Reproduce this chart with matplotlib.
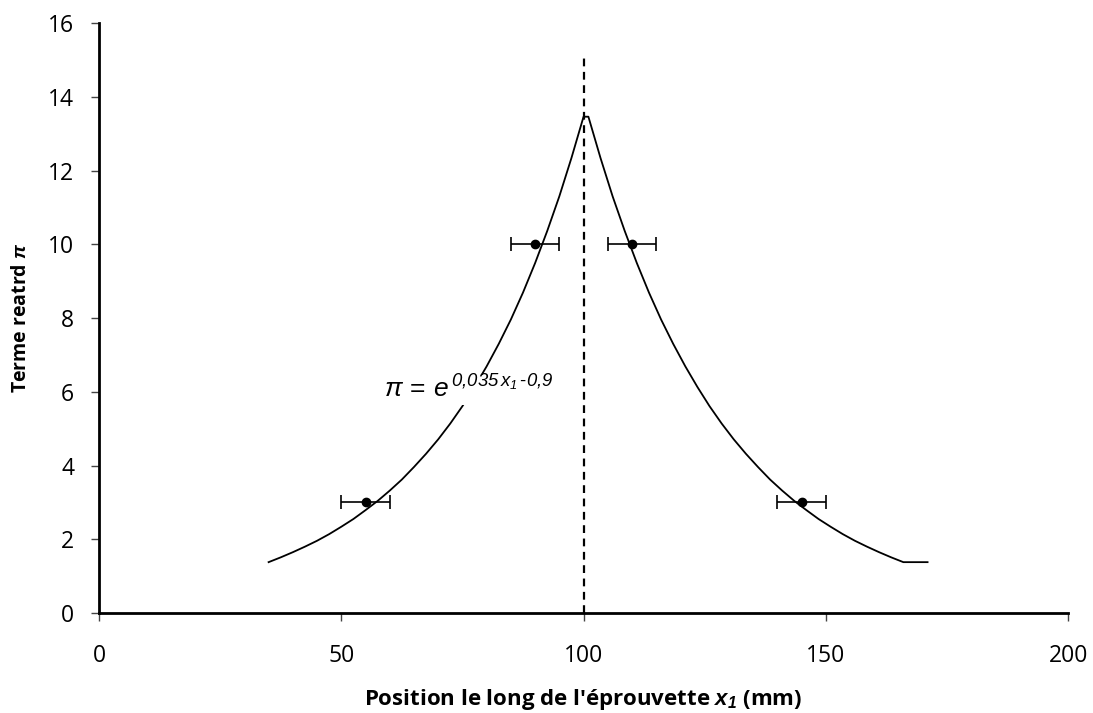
import matplotlib.pyplot as plt

plt.rcParams['font.family'] = ['Open Sans', 'DejaVu Sans']
plt.rcParams['mathtext.fontset'] = 'custom'
plt.rcParams['mathtext.rm'] = 'Liberation Sans'
plt.rcParams['mathtext.it'] = 'Liberation Sans:italic'
plt.rcParams['mathtext.sf'] = 'Liberation Sans:italic'
plt.rcParams['mathtext.bf'] = 'Liberation Sans:bold'
plt.rcParams['mathtext.bfit'] = 'Liberation Sans:italic:bold'

# curve (Excel trend, mirrored about ~100.5 mm)
curve_x = [35, 37.5, 40, 42.5, 45, 47.5, 50, 52.5, 55, 57.5, 60, 62.5, 65, 67.5,
           70, 72.5, 75, 77.5, 80, 82.5, 85, 87.5, 90, 92.5, 95, 97.5, 100,
           101, 103.5, 106, 108.5, 111, 113.5, 116, 118.5, 121, 123.5, 126, 128.5,
           131, 133.5, 136, 138.5, 141, 143.5, 146, 148.5, 151, 153.5, 156, 158.5,
           161, 163.5, 166, 171]
curve_y = [1.38, 1.51, 1.65, 1.80, 1.96, 2.14, 2.34, 2.55, 2.79, 3.04, 3.32, 3.62, 3.96, 4.32,
           4.71, 5.14, 5.61, 6.13, 6.69, 7.30, 7.96, 8.69, 9.49, 10.36, 11.30, 12.34, 13.46,
           13.46, 12.34, 11.30, 10.36, 9.49, 8.69, 7.96, 7.30, 6.69, 6.13, 5.61, 5.14,
           4.71, 4.32, 3.96, 3.62, 3.32, 3.04, 2.79, 2.55, 2.34, 2.14, 1.96, 1.80,
           1.65, 1.51, 1.38, 1.38]

# measured points with horizontal error
pts_x = [55, 90, 110, 145]
pts_y = [3, 10, 10, 3]
pts_xerr = [5, 5, 5, 5]

x_ticks = [0, 50, 100, 150, 200]
y_ticks = [0, 2, 4, 6, 8, 10, 12, 14, 16]

fig = plt.figure(figsize=(10.93, 7.13), dpi=100)
ax = fig.add_axes([0.0906, 0.1402, 0.8866, 0.8275])

ax.plot(curve_x, curve_y, color='black', lw=1.3, zorder=2)
ax.errorbar(pts_x, pts_y, xerr=pts_xerr, fmt='o', color='black', ms=6,
            ecolor='black', elinewidth=1.2, capsize=5, capthick=1.2, zorder=3)
ax.vlines(100, 0, 15.1, colors='black', linestyles=(0, (3.5, 2.5)), lw=1.6, zorder=2)

ax.text(58.8, 6.05, r'$\pi\,=\,e^{\,\mathsf{0{,}035\,x}_{\mathsf{1}}\,\text{-}\mathsf{0{,}9}}$',
        fontsize=19, va='center', ha='left', zorder=4,
        bbox=dict(facecolor='white', edgecolor='none', pad=1))

ax.set_xlim(0, 200)
ax.set_ylim(0, 16)
ax.set_xticks(x_ticks)
ax.set_yticks(y_ticks)
ax.tick_params(labelsize=16.5, length=6, width=1, color='#444444', direction='out')
ax.tick_params(axis='x', pad=16)
ax.tick_params(axis='y', pad=12)

for s in ['top', 'right']:
    ax.spines[s].set_visible(False)
for s in ['left', 'bottom']:
    ax.spines[s].set_linewidth(2)

ax.set_xlabel(r"Position le long de l'éprouvette $\mathbfit{x}_{\mathbfit{1}}$ (mm)",
              fontsize=16, fontweight='bold', labelpad=14)
ax.set_ylabel(r'Terme reatrd $\mathbfit{\pi}$', fontsize=14, fontweight='bold', labelpad=12)

fig.savefig('out.png', dpi=100)
